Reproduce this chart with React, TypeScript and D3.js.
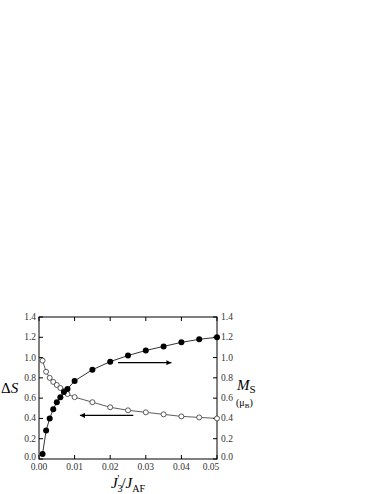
import * as d3 from "d3";

const xs = [0.001, 0.002, 0.003, 0.004, 0.005, 0.006, 0.007, 0.008, 0.01, 0.015, 0.02, 0.025, 0.03, 0.035, 0.04, 0.045, 0.05];
// M_S (filled circles, right axis)
const msVals = [0.05, 0.28, 0.40, 0.49, 0.56, 0.61, 0.66, 0.69, 0.77, 0.88, 0.96, 1.02, 1.07, 1.11, 1.15, 1.18, 1.20];
// Delta S (open circles, left axis)
const dsVals = [0.97, 0.86, 0.80, 0.76, 0.73, 0.70, 0.67, 0.64, 0.61, 0.56, 0.51, 0.48, 0.46, 0.44, 0.42, 0.41, 0.40];
const xTicks = [0, 0.01, 0.02, 0.03, 0.04, 0.05];
const yTicks = [0, 0.2, 0.4, 0.6, 0.8, 1.0, 1.2, 1.4];
// arrows: [x0, x1, y]
const arrowRight = [0.0222, 0.0372, 0.95];
const arrowLeft = [0.0265, 0.0115, 0.43];

const font = "'Liberation Serif', 'DejaVu Serif', serif";

export default function App() {
  const left = 39, right = 217, top = 317, bottom = 459;
  const x = d3.scaleLinear().domain([0, 0.05]).range([left, right]);
  const y = d3.scaleLinear().domain([0, 1.4]).range([bottom, top]);
  const msPath = d3.line<number>().x((_, i) => x(xs[i])).y(d => y(d))(msVals) ?? "";
  const dsPath = d3.line<number>().x((_, i) => x(xs[i])).y(d => y(d))(dsVals) ?? "";
  const tl = 4;
  const col = "#333";

  return (
    <svg width={382} height={494} style={{ position: "absolute", left: 0, top: 0 }} fontFamily={font}>
      <defs>
        <marker id="ah" viewBox="0 0 10 10" refX="10" refY="5" markerWidth="9" markerHeight="5" markerUnits="userSpaceOnUse" orient="auto">
          <path d="M0,0 L10,5 L0,10 z" fill="#000" />
        </marker>
      </defs>
      <rect x={left} y={top} width={right - left} height={bottom - top} fill="none" stroke="#000" strokeWidth={1} />
      {xTicks.map(t => (
        <g key={"x" + t}>
          <line x1={x(t)} x2={x(t)} y1={bottom} y2={bottom - tl} stroke="#000" />
          <line x1={x(t)} x2={x(t)} y1={top} y2={top + tl} stroke="#000" />
          <text x={x(t) - (t === 0.05 ? 6 : 0)} y={bottom + 11} fontSize={9.5} textAnchor="middle" fill={col}>{t === 0 ? "0.00" : t.toFixed(2)}</text>
        </g>
      ))}
      {yTicks.map(t => (
        <g key={"y" + t}>
          <line x1={left} x2={left + tl} y1={y(t)} y2={y(t)} stroke="#000" />
          <line x1={right} x2={right - tl} y1={y(t)} y2={y(t)} stroke="#000" />
          <text x={left - 3} y={y(t) + (t === 0 ? 1 : 3)} fontSize={9.5} textAnchor="end" fill={col}>{t.toFixed(1)}</text>
          <text x={right + 4} y={y(t) + (t === 0 ? 1 : 3)} fontSize={9.5} textAnchor="start" fill={col}>{t.toFixed(1)}</text>
        </g>
      ))}
      <path d={dsPath} fill="none" stroke="#333" strokeWidth={0.8} />
      <path d={msPath} fill="none" stroke="#000" strokeWidth={0.8} />
      {dsVals.map((v, i) => (
        <circle key={"d" + i} cx={x(xs[i])} cy={y(v)} r={2.5} fill="#fff" stroke="#333" strokeWidth={0.8} />
      ))}
      {msVals.map((v, i) => (
        <circle key={"m" + i} cx={x(xs[i])} cy={y(v)} r={3} fill="#000" />
      ))}
      <line x1={x(arrowRight[0])} x2={x(arrowRight[1])} y1={y(arrowRight[2])} y2={y(arrowRight[2])} stroke="#000" strokeWidth={1.2} markerEnd="url(#ah)" />
      <line x1={x(arrowLeft[0])} x2={x(arrowLeft[1])} y1={y(arrowLeft[2])} y2={y(arrowLeft[2])} stroke="#000" strokeWidth={1.2} markerEnd="url(#ah)" />
      <text x={1} y={393} fontSize={15} fill="#000">Δ<tspan fontStyle="italic">S</tspan></text>
      <text x={237} y={390} fontSize={15} fill="#000" fontStyle="italic">M<tspan fontSize={11} fontStyle="normal" dy={3}>S</tspan></text>
      <text x={236} y={406} fontSize={10} fill="#000">(μ<tspan fontSize={7} dy={2}>B</tspan><tspan dy={-2}>)</tspan></text>
      <text x={128} y={488} fontSize={15} fill="#000" textAnchor="middle">
        <tspan fontStyle="italic">J</tspan><tspan fontSize={10} dy={4}>3</tspan><tspan dy={-10} dx={-5} fontSize={10}>'</tspan><tspan dy={6} dx={2}>/</tspan><tspan fontStyle="italic">J</tspan><tspan fontSize={10} dy={4}>AF</tspan>
      </text>
    </svg>
  );
}
